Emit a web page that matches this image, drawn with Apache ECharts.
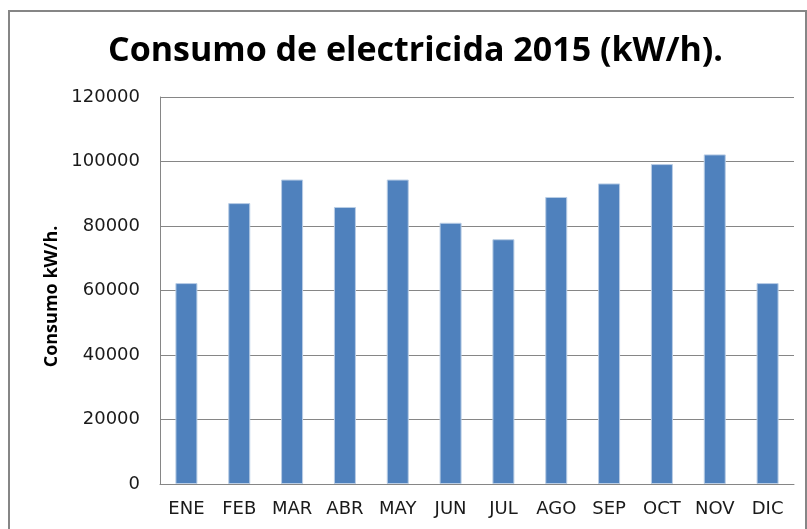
<!DOCTYPE html>
<html>
<head>
    <meta charset="utf-8"/>
    <title>Consumo de electricidad 2015</title>
    <script src="https://cdn.jsdelivr.net/npm/echarts@6/dist/echarts.min.js"></script>
    <style>
        html, body { margin: 0; padding: 0; background: #fff; }
    </style>
</head>
<body>
<div id="main" style="width: 807px;height:529px;"></div>
<script type="text/javascript">
    // datos
    var meses = ['ENE', 'FEB', 'MAR', 'ABR', 'MAY', 'JUN', 'JUL', 'AGO', 'SEP', 'OCT', 'NOV', 'DIC'];
    var consumo = [62300, 87100, 94400, 85900, 94400, 81000, 75900, 89000, 93200, 99200, 102200, 62300];
    var titulo = 'Consumo de electricida 2015 (kW/h).';
    var tituloEje = 'Consumo kW/h.';

    var myChart = echarts.init(document.getElementById('main'));
    var fuente = '"Open Sans", "DejaVu Sans", sans-serif';
    var fuenteEjes = '"DejaVu Sans", sans-serif';

    var option = {
        animation: false,
        backgroundColor: '#fff',
        textStyle: { fontFamily: fuente },
        title: {
            text: titulo,
            left: 103,
            top: 29,
            textStyle: { fontSize: 34, fontWeight: 'bold', color: '#000', fontFamily: fuente }
        },
        graphic: [{
            type: 'rect',
            shape: { x: 9, y: 11, width: 797, height: 530 },
            style: { fill: 'none', stroke: '#868686', lineWidth: 2 },
            silent: true
        }],
        grid: { left: 160, right: 13, top: 97, bottom: 45 },
        xAxis: {
            type: 'category',
            data: meses,
            axisLine: { lineStyle: { color: '#868686' } },
            axisTick: { show: false },
            axisLabel: { color: '#1a1a1a', fontSize: 18, margin: 16, fontFamily: fuenteEjes }
        },
        yAxis: {
            type: 'value',
            min: 0,
            max: 120000,
            interval: 20000,
            name: tituloEje,
            nameLocation: 'middle',
            nameGap: 96,
            nameTextStyle: {
                fontSize: 18, fontWeight: 'bold', color: '#000', fontFamily: fuente,
                padding: [0, 12, 0, 0]
            },
            axisLine: { show: true, lineStyle: { color: '#868686' } },
            axisTick: { show: false },
            splitLine: { lineStyle: { color: '#868686' } },
            axisLabel: {
                color: '#1a1a1a', fontSize: 18, margin: 20, fontFamily: fuenteEjes,
                formatter: function (v) { return String(v); }
            }
        },
        series: [{
            name: 'Consumo',
            type: 'bar',
            data: consumo,
            barWidth: 22,
            itemStyle: { color: '#4F81BD', borderColor: '#B9CDE5', borderWidth: 1 }
        }]
    };

    myChart.setOption(option);
</script>
</body>
</html>
